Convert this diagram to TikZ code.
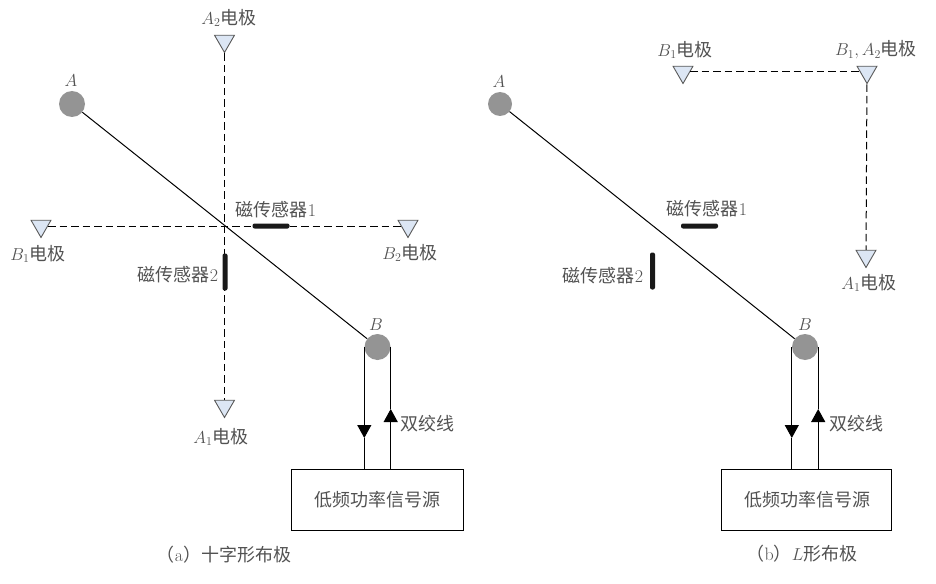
\documentclass[tikz,border=0pt]{standalone}
\usepackage{fontspec}
\newfontfamily\cjk{Noto Sans CJK SC}
\usetikzlibrary{arrows.meta,shapes.geometric}
\newcommand{\zh}[1]{{\cjk #1}}
\definecolor{elecblue}{HTML}{DCE6F4}
\tikzset{
  every label text/.style={text=black!68, inner sep=0pt, font=\fontsize{18}{20}\selectfont},
  pole/.style={circle, fill=black!42, inner sep=0pt, minimum size=26pt},
  electrode/.style={regular polygon, regular polygon sides=3, shape border rotate=180,
    draw=black!65, fill=elecblue, line width=0.9pt, inner sep=0pt, minimum size=23pt},
  sensor/.style={rectangle, rounded corners=2pt, fill=black!90, inner sep=0pt},
  sensor h/.style={sensor, minimum width=37pt, minimum height=5pt},
  sensor v/.style={sensor, minimum width=5pt, minimum height=37pt},
  source/.style={rectangle, draw, line width=0.9pt, inner sep=0pt, minimum height=61pt},
  probe line/.style={line width=1pt, dash pattern=on 7.5pt off 4pt},
  wire/.style={line width=1.1pt},
  tip down/.style={wire, -{Triangle[width=14pt,length=13pt]}}
}
\begin{document}
\begin{tikzpicture}[x=1pt, y=-1pt]
  \useasboundingbox (0,0) rectangle (936,583);

  \foreach \m/\x/\y in {a-A2/224.5/41, a-A1/224.5/406, a-B1/41/226, a-B2/408/226,
                        b-B1/683/72, b-B2/867/72, b-A1/866/256}
    \node [electrode] (elec-\m) at (\x,\y) {};

  \draw [probe line] (elec-a-A2) -- (elec-a-A1);
  \draw [probe line] (elec-a-B1) -- (elec-a-B2);
  \draw [probe line] (elec-b-B1) -- (elec-b-B2);
  \draw [probe line] (elec-b-B2) -- (elec-b-A1);

  \node [pole] (pole-a-A) at (72,104) {};
  \node [pole] (pole-a-B) at (377.5,347) {};
  \node [pole, minimum size=24pt] (pole-b-A) at (500,104) {};
  \node [pole] (pole-b-B) at (805,347) {};

  \draw [line width=1pt] (pole-a-A) -- (pole-a-B);
  \draw [line width=1pt] (pole-b-A) -- (pole-b-B);

  \node [sensor h] (sensor-a-1) at (271,226) {};
  \node [sensor v] (sensor-a-2) at (225,272) {};
  \node [sensor h] (sensor-b-1) at (699.5,226) {};
  \node [sensor v] (sensor-b-2) at (652.5,271) {};

  \node [source, minimum width=172pt] (source-a) at (377.5,499.5) {};
  \node [source, minimum width=170pt] (source-b) at (806.5,499.5) {};

  \foreach \p/\d/\u in {a/438/409, b/438/409} {
    \coordinate (down-\p) at (pole-\p-B.west |- 0,\d);
    \coordinate (up-\p) at (pole-\p-B.east |- 0,\u);
    \draw [tip down] (pole-\p-B.west) -- (down-\p);
    \draw [wire] (down-\p) -- (source-\p.north -| down-\p);
    \draw [tip down] (source-\p.north -| up-\p) -- (up-\p);
    \draw [wire] (up-\p) -- (pole-\p-B.east);
  }

  \foreach \m/\x/\y/\t in {
      a-A/71/81/$A$, a-B/376/325/$B$,
      a-A2/229/18/{$A_2$\zh{电极}}, a-B1/38/254/{$B_1$\zh{电极}},
      a-B2/410/253/{$B_2$\zh{电极}}, a-A1/221/437/{$A_1$\zh{电极}},
      a-S1/276/210/{\zh{磁传感器}1}, a-S2/178/275/{\zh{磁传感器}2},
      a-W/427/424/{\zh{双绞线}}, a-P/377/500/{\zh{低频功率信号源}},
      a-C/224/555/{\zh{（}a\zh{）十字形布极}},
      b-A/499/82/$A$, b-B/805/325/$B$,
      b-B1/685/50/{$B_1$\zh{电极}}, b-B2/876/50/{$B_1,A_2$\zh{电极}},
      b-A1/869/283/{$A_1$\zh{电极}},
      b-S1/707/209/{\zh{磁传感器}1}, b-S2/603/276/{\zh{磁传感器}2},
      b-W/856/424/{\zh{双绞线}}, b-P/807/500/{\zh{低频功率信号源}},
      b-C/802/554/{\zh{（}b\zh{）}$L$\zh{形布极}}}
    \node [every label text] (label-\m) at (\x,\y) {\t};

\end{tikzpicture}
\end{document}
